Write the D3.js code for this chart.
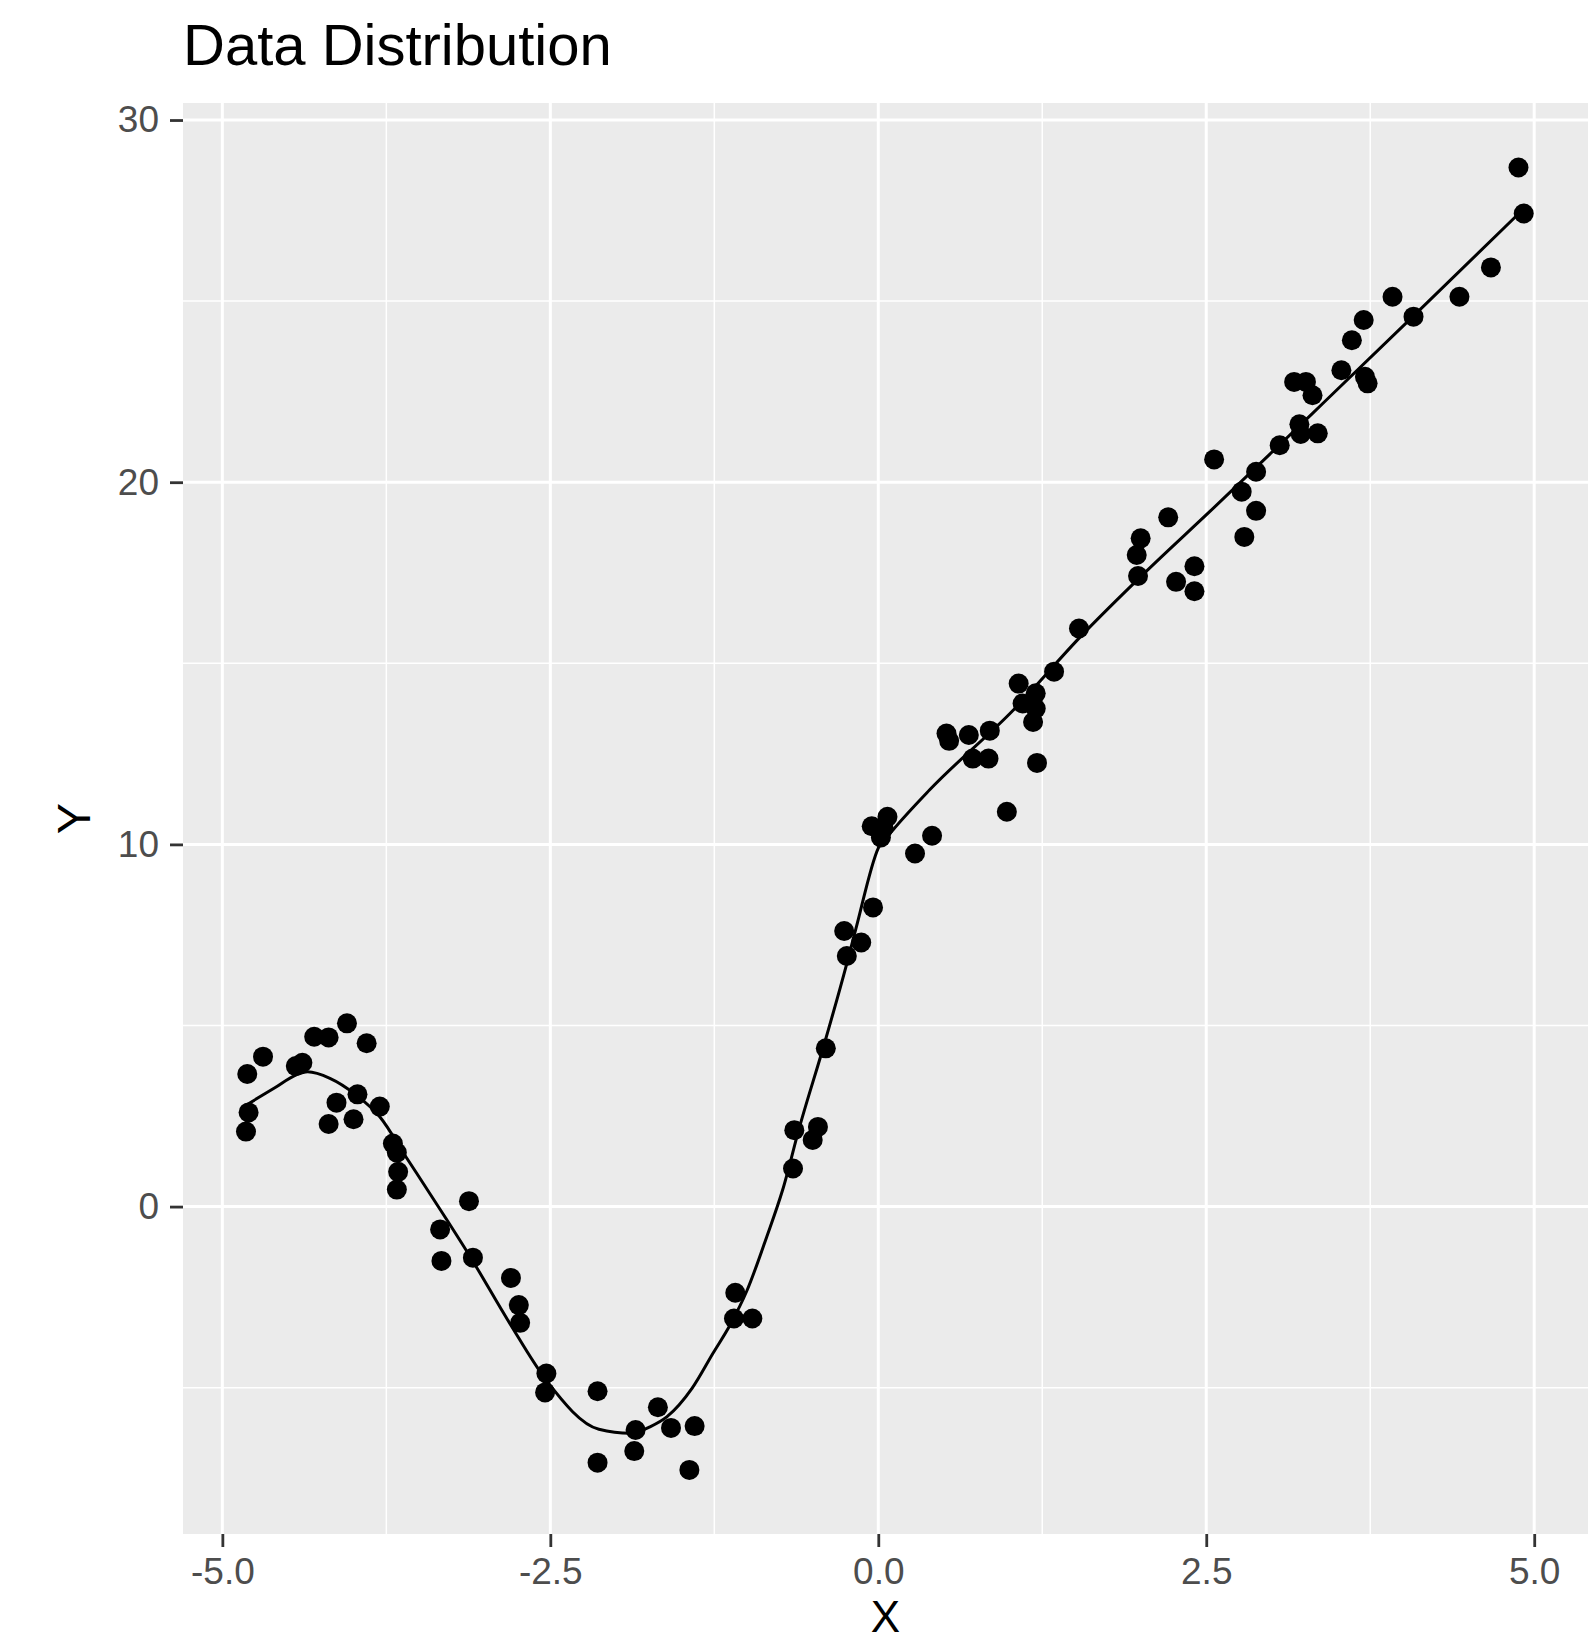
<!DOCTYPE html>
<html>
<head>
<meta charset="utf-8">
<script src="https://cdn.jsdelivr.net/npm/d3@7"></script>
<style>
  body { margin: 0; background: #fff; }
  svg { display: block; font-family: "Liberation Sans", Arial, sans-serif; }
</style>
</head>
<body>
<div id="chart"></div>
<script>
// scatter points
const pointX = [-4.81, -4.69, -4.80, -4.82, -4.44, -4.39, -4.30, -4.19, -4.05, -3.90,
  -4.13, -4.19, -3.97, -4.00, -3.80, -3.70, -3.67, -3.66, -3.67, -3.12,
  -3.34, -3.33, -3.09, -2.80, -2.74, -2.73, -2.53, -2.54, -2.14, -2.14,
  -1.85, -1.86, -1.68, -1.58, -1.40, -1.44, -1.09, -1.10, -0.96, -0.65,
  -0.64, -0.50, -0.46, -0.40, -0.24, -0.26, -0.13, -0.04, -0.05, 0.07,
  0.02, 0.04, 0.28, 0.41, 0.98, 0.52, 0.54, 0.69, 0.85, 0.72,
  0.84, 1.21, 1.07, 1.20, 1.10, 1.20, 1.18, 1.34, 1.53, 1.97,
  2.00, 1.98, 2.21, 2.27, 2.41, 2.41, 2.56, 2.79, 2.88, 2.77,
  2.88, 3.06, 3.21, 3.22, 3.35, 3.17, 3.26, 3.31, 3.53, 3.61,
  3.70, 3.71, 3.73, 3.92, 4.08, 4.43, 4.67, 4.88, 4.92]
const pointY = [3.66, 4.14, 2.60, 2.07, 3.88, 3.97, 4.69, 4.67, 5.06, 4.51,
  2.87, 2.28, 3.10, 2.41, 2.76, 1.74, 1.49, 0.96, 0.47, 0.15,
  -0.63, -1.50, -1.41, -1.97, -2.72, -3.21, -4.61, -5.13, -5.10, -7.07,
  -6.17, -6.75, -5.54, -6.11, -6.06, -7.27, -2.38, -3.09, -3.09, 1.05,
  2.11, 1.84, 2.20, 4.37, 6.92, 7.61, 7.29, 8.26, 10.50, 10.76,
  10.19, 10.44, 9.75, 10.24, 10.90, 13.06, 12.86, 13.02, 13.14, 12.37,
  12.37, 12.25, 14.44, 14.17, 13.89, 13.75, 13.38, 14.77, 15.96, 17.99,
  18.45, 17.41, 19.03, 17.25, 17.68, 16.99, 20.63, 18.49, 19.21, 19.74,
  20.29, 21.02, 21.60, 21.33, 21.35, 22.77, 22.77, 22.40, 23.09, 23.92,
  24.48, 22.91, 22.73, 25.12, 24.57, 25.12, 25.93, 28.69, 27.42]

// fitted curve
const fitX = [-4.82, -4.60, -4.44, -4.35, -4.18, -3.98, -3.80, -3.60, -3.32, -3.11,
  -2.81, -2.53, -2.13, -1.89, -1.74, -1.61, -1.42, -1.26, -1.13, -1.00,
  -0.85, -0.73, -0.60, -0.41, -0.24, -0.17, 0.00, 0.11, 0.39, 1.03,
  1.54, 2.04, 2.53, 3.39, 4.10, 4.92]
const fitY = [2.80, 3.28, 3.63, 3.72, 3.54, 3.08, 2.48, 1.37, -0.19, -1.39,
  -3.22, -4.80, -6.15, -6.26, -6.08, -5.80, -5.02, -4.05, -3.27, -2.31,
  -0.83, 0.45, 2.20, 4.51, 6.71, 7.68, 9.90, 10.39, 11.50, 13.71,
  15.73, 17.53, 19.20, 22.18, 24.66, 27.55]

const xTicks = [-5, -2.5, 0, 2.5, 5]
const xMinor = [-3.75, -1.25, 1.25, 3.75]
const yTicks = [0, 10, 20, 30]
const yMinor = [-5, 5, 15, 25]

const width = 1593, height = 1642
const panel = {left: 183, right: 1588, top: 103, bottom: 1534}

let svg = d3.select("#chart").append("svg")
    .attr("width", width)
    .attr("height", height)

let x = d3.scaleLinear().domain([-5.30, 5.41]).range([panel.left, panel.right])
let y = d3.scaleLinear().domain([-9.04, 30.47]).range([panel.bottom, panel.top])

// panel background
svg.append("rect")
    .attr("x", panel.left)
    .attr("y", panel.top)
    .attr("width", panel.right - panel.left)
    .attr("height", panel.bottom - panel.top)
    .attr("fill", "#ebebeb")

// grid lines, minor first
svg.selectAll(".xminor").data(xMinor).enter().append("line")
    .attr("x1", d => x(d)).attr("x2", d => x(d))
    .attr("y1", panel.top).attr("y2", panel.bottom)
    .attr("stroke", "#fff").attr("stroke-width", 1.5)
svg.selectAll(".yminor").data(yMinor).enter().append("line")
    .attr("y1", d => y(d)).attr("y2", d => y(d))
    .attr("x1", panel.left).attr("x2", panel.right)
    .attr("stroke", "#fff").attr("stroke-width", 1.5)
svg.selectAll(".xmajor").data(xTicks).enter().append("line")
    .attr("x1", d => x(d)).attr("x2", d => x(d))
    .attr("y1", panel.top).attr("y2", panel.bottom)
    .attr("stroke", "#fff").attr("stroke-width", 3)
svg.selectAll(".ymajor").data(yTicks).enter().append("line")
    .attr("y1", d => y(d)).attr("y2", d => y(d))
    .attr("x1", panel.left).attr("x2", panel.right)
    .attr("stroke", "#fff").attr("stroke-width", 3)

// axes (plain hyphen for negatives, like the original)
let fmtX = d => d3.format(".1f")(d).replace("\u2212", "-")
let xAxis = svg.append("g")
    .attr("transform", "translate(0," + panel.bottom + ")")
    .call(d3.axisBottom(x).tickValues(xTicks).tickFormat(fmtX).tickSize(13).tickPadding(11))
let yAxis = svg.append("g")
    .attr("transform", "translate(" + panel.left + ",0)")
    .call(d3.axisLeft(y).tickValues(yTicks).tickFormat(d3.format("d")).tickSize(13).tickPadding(11))

for (let ax of [xAxis, yAxis]) {
    ax.select(".domain").remove()
    ax.selectAll(".tick line").attr("stroke", "#333").attr("stroke-width", 2.8)
    ax.selectAll(".tick text")
        .attr("fill", "#4d4d4d")
        .attr("font-size", 37)
        .attr("font-family", "'Liberation Sans', Arial, sans-serif")
}

// points
svg.append("g").selectAll("circle")
    .data(pointX.map((d, i) => [d, pointY[i]]))
    .enter().append("circle")
    .attr("cx", d => x(d[0]))
    .attr("cy", d => y(d[1]))
    .attr("r", 10)
    .attr("fill", "#000")

// fitted line
let line = d3.line()
    .x(d => x(d[0]))
    .y(d => y(d[1]))
    .curve(d3.curveMonotoneX)
svg.append("path")
    .datum(fitX.map((d, i) => [d, fitY[i]]))
    .attr("d", line)
    .attr("fill", "none")
    .attr("stroke", "#000")
    .attr("stroke-width", 3)

// titles
svg.append("text")
    .attr("x", panel.left)
    .attr("y", 65)
    .attr("font-size", 58)
    .attr("fill", "#000")
    .text("Data Distribution")

svg.append("text")
    .attr("x", (panel.left + panel.right) / 2)
    .attr("y", 1632)
    .attr("text-anchor", "middle")
    .attr("font-size", 44)
    .attr("fill", "#000")
    .text("X")

svg.append("text")
    .attr("transform", "translate(90," + (panel.top + panel.bottom) / 2 + ") rotate(-90)")
    .attr("text-anchor", "middle")
    .attr("font-size", 47)
    .attr("fill", "#000")
    .text("Y")
</script>
</body>
</html>
